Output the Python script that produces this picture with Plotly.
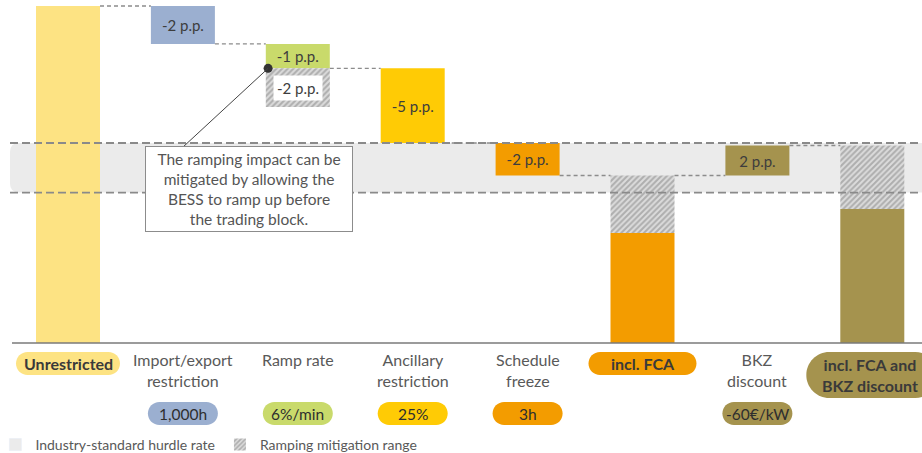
import plotly.graph_objects as go

# ---- data (values in IRR percentage points) ----
categories = ["Unrestricted", "Import/export<br>restriction", "Ramp rate",
              "Ancillary<br>restriction", "Schedule<br>freeze", "incl. FCA",
              "BKZ<br>discount", "incl. FCA and<br>BKZ discount"]
start_value = 20.0
step_changes = [-2.25, -1.45, -4.43, -1.93]   # import, ramp, ancillary, schedule
ramp_mitigation = 2.3
fca_value = 6.53
bkz_change = 1.78
final_value = 7.95
hurdle_rate = [8.93, 11.87]
step_labels = ["-2 p.p.", "-1 p.p.", "-5 p.p.", "-2 p.p."]
bkz_label = "2 p.p."
ramp_mitigation_label = "-2 p.p."
parameters = ["", "1,000h", "6%/min", "25%", "3h", "", "-60€/kW", ""]
pill_categories = [0, 5, 7]

colors = ["#FDE383", "#9BAFD0", "#C9DA6B", "#FFCB05",
          "#F39C00", "#F39C00", "#A5934E", "#A5934E"]

FONT = "Lato"
W, H = 922, 453
BAR_W = 0.557
# pixel layout: bar centres at 68 + 114.9*i, baseline at y=343, 16.85 px per p.p.
X0_PX, X_STEP = 68, 114.9
BASE_PX, Y_STEP = 343, 16.85
x_range = [-X0_PX / X_STEP, (W - X0_PX) / X_STEP]
y_range = [-(H - BASE_PX) / Y_STEP, BASE_PX / Y_STEP]


def px2x(px):
    return (px - X0_PX) / X_STEP


def px2y(py):
    return (BASE_PX - py) / Y_STEP


def paper(px, py):
    return px / W, 1 - py / H


# ---- waterfall levels ----
levels = [start_value]
for c in step_changes:
    levels.append(levels[-1] + c)
after_schedule = levels[-1]
bkz_level = after_schedule + bkz_change

bar_x = list(range(len(categories)))
bar_base = [0]
bar_len = [start_value]
for i, c in enumerate(step_changes):
    bar_base.append(min(levels[i], levels[i + 1]))
    bar_len.append(abs(c))
bar_base += [0, after_schedule, 0]
bar_len += [fca_value, bkz_change, final_value]
bar_text = [""] + step_labels + ["", bkz_label, ""]

hatch_x = [2, 5, 7]
hatch_base = [levels[2] - ramp_mitigation, fca_value, final_value]
hatch_len = [ramp_mitigation, after_schedule - fca_value, bkz_level - final_value]

fig = go.Figure()
fig.add_trace(go.Bar(
    x=[None], y=[None], name="Industry-standard hurdle rate",
    marker=dict(color="#ebebeb")))
fig.add_trace(go.Bar(
    x=bar_x, y=bar_len, base=bar_base, width=BAR_W,
    marker=dict(color=colors, line=dict(width=0)),
    text=bar_text, textposition="inside", insidetextanchor="middle",
    textangle=0, constraintext="none",
    textfont=dict(family=FONT, size=15, color="#3d3d3d"),
    showlegend=False, hoverinfo="skip"))
fig.add_trace(go.Bar(
    x=hatch_x, y=hatch_len, base=hatch_base, width=BAR_W,
    name="Ramping mitigation range",
    marker=dict(color="#dcdcdc", line=dict(width=0),
                pattern=dict(shape="/", fgcolor="#7f7f7f", size=4, solidity=0.5)),
    hoverinfo="skip"))

shapes = []


def rounded_rect(x0, x1, y0, y1, rx, ry):
    return (f"M{x0+rx},{y0} L{x1-rx},{y0} Q{x1},{y0} {x1},{y0+ry} "
            f"L{x1},{y1-ry} Q{x1},{y1} {x1-rx},{y1} L{x0+rx},{y1} "
            f"Q{x0},{y1} {x0},{y1-ry} L{x0},{y0+ry} Q{x0},{y0} {x0+rx},{y0} Z")


def pill(cx, cy, w, h):
    r = h / 2
    k = 0.5523 * r
    x0, x1 = cx - w / 2, cx + w / 2
    y0, y1 = cy - r, cy + r
    pts = [("M", [(x0 + r, y0)]), ("L", [(x1 - r, y0)]),
           ("C", [(x1 - r + k, y0), (x1, cy - k), (x1, cy)]),
           ("C", [(x1, cy + k), (x1 - r + k, y1), (x1 - r, y1)]),
           ("L", [(x0 + r, y1)]),
           ("C", [(x0 + r - k, y1), (x0, cy + k), (x0, cy)]),
           ("C", [(x0, cy - k), (x0 + r - k, y0), (x0 + r, y0)])]
    out = ""
    for cmd, ps in pts:
        out += cmd + " ".join("%.5f,%.5f" % paper(px, py) for px, py in ps) + " "
    return out + "Z"


# hurdle band
shapes.append(dict(type="path", xref="paper", yref="y", layer="below",
                   path=rounded_rect(10 / W, 1.02, hurdle_rate[0], hurdle_rate[1],
                                     9 / W, 9 / Y_STEP),
                   fillcolor="#ebebeb", line=dict(width=0)))
for hv in hurdle_rate:
    shapes.append(dict(type="line", xref="paper", yref="y", x0=10 / W, x1=1,
                       y0=hv, y1=hv, layer="above",
                       line=dict(color="#8a8a8a", width=1.8, dash="8px,4px")))

# connectors between bars
conn_levels = levels + [after_schedule, bkz_level]
for i, lv in enumerate(conn_levels):
    shapes.append(dict(type="line", xref="x", yref="y",
                       x0=i + BAR_W / 2, x1=i + 1 - BAR_W / 2, y0=lv, y1=lv,
                       line=dict(color="#8c8c8c", width=1.3, dash="4px,3px")))

# axis line
shapes.append(dict(type="line", xref="paper", yref="y", x0=12 / W, x1=1, y0=0, y1=0,
                   line=dict(color="#7a7a7a", width=1.5)))

# callout leader line
dot_x, dot_y = 2 - BAR_W / 2 + 0.02, levels[2]
shapes.append(dict(type="line", xref="x", yref="y", x0=px2x(183), y0=px2y(147),
                   x1=dot_x, y1=dot_y, line=dict(color="#444", width=1)))

annotations = []
# category labels and pills
pill_w = {0: 104, 5: 108, 7: 132}
for i, cat in enumerate(categories):
    cx = X0_PX + X_STEP * i
    if i in pill_categories:
        h = 46 if "<br>" in cat else 23
        shapes.append(dict(type="path", xref="paper", yref="paper",
                           path=pill(cx, 352 + h / 2, pill_w[i], h),
                           fillcolor=colors[i], line=dict(width=0)))
        annotations.append(dict(x=i - (0.02 if h > 23 else 0), y=paper(0, 352 + h / 2)[1],
                                xref="x", yref="paper", xanchor="center", yanchor="middle",
                                text="<b>%s</b>" % cat, showarrow=False,
                                font=dict(family=FONT, size=16, color="#3a3a3a")))
    else:
        annotations.append(dict(x=i, y=paper(0, 348)[1], xref="x", yref="paper",
                                xanchor="center", yanchor="top", text=cat, showarrow=False,
                                font=dict(family=FONT, size=16, color="#595959")))
    if parameters[i]:
        shapes.append(dict(type="path", xref="paper", yref="paper",
                           path=pill(cx, 413.5, 70, 23),
                           fillcolor=colors[i], line=dict(width=0)))
        annotations.append(dict(x=i, y=paper(0, 414)[1], xref="x", yref="paper",
                                xanchor="center", yanchor="middle",
                                text=parameters[i], showarrow=False,
                                font=dict(family=FONT, size=15.5, color="#2e2e2e")))

# label inside the ramp mitigation range
annotations.append(dict(x=2, y=hatch_base[0] + ramp_mitigation / 2, xref="x", yref="y",
                        xanchor="center", yanchor="middle",
                        text=ramp_mitigation_label, showarrow=False, bgcolor="white",
                        borderpad=3, font=dict(family=FONT, size=15, color="#3d3d3d")))

# callout box
annotations.append(dict(x=paper(249, 0)[0], y=paper(0, 189)[1], xref="paper", yref="paper",
                        xanchor="center", yanchor="middle",
                        text="The ramping impact can be<br>mitigated by allowing the<br>"
                             "BESS to ramp up before<br>the trading block.",
                        showarrow=False, width=204, height=82, borderpad=1,
                        bordercolor="#8c8c8c", borderwidth=1, bgcolor="white",
                        font=dict(family=FONT, size=15.5, color="#555555")))

fig.add_trace(go.Scatter(x=[dot_x], y=[dot_y], mode="markers",
                         marker=dict(color="#333333", size=9),
                         showlegend=False, hoverinfo="skip"))

fig.update_layout(
    width=W, height=H, barmode="overlay",
    margin=dict(l=0, r=0, t=0, b=0, autoexpand=False),
    paper_bgcolor="white", plot_bgcolor="white",
    xaxis=dict(range=x_range, visible=False, fixedrange=True),
    yaxis=dict(range=y_range, visible=False, fixedrange=True),
    shapes=shapes, annotations=annotations,
    legend=dict(orientation="h", x=-0.005, y=paper(0, 445)[1], xanchor="left",
                yanchor="middle",
                font=dict(family=FONT, size=14, color="#595959"),
                bgcolor="rgba(0,0,0,0)", itemwidth=30),
    font=dict(family=FONT),
)

fig.write_html("out.html", config={"displayModeBar": False},
               post_script="document.body.style.margin='0';")
